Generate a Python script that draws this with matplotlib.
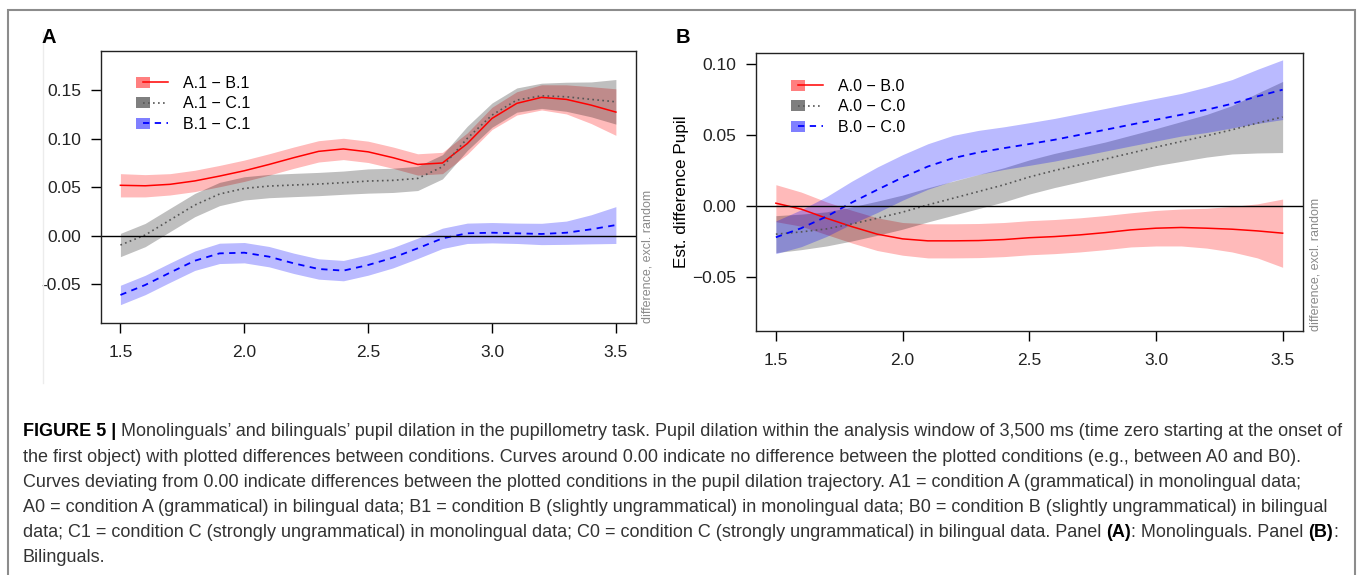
import numpy as np
import matplotlib
matplotlib.use('Agg')
import matplotlib.pyplot as plt
from matplotlib.legend_handler import HandlerBase
from matplotlib.patches import Rectangle
from matplotlib.lines import Line2D

plt.rcParams['font.family'] = ['Liberation Sans', 'DejaVu Sans']

time_s = [1.5, 1.6, 1.7, 1.8, 1.9, 2.0, 2.1, 2.2, 2.3, 2.4, 2.5,
          2.6, 2.7, 2.8, 2.9, 3.0, 3.1, 3.2, 3.3, 3.4, 3.5]

# panel A: monolinguals (estimated difference, CI half-width)
a1_b1 = [0.0520, 0.0515, 0.0530, 0.0565, 0.0615, 0.0670, 0.0735, 0.0805, 0.0870, 0.0895, 0.0865,
         0.0805, 0.0735, 0.0750, 0.0950, 0.1210, 0.1365, 0.1427, 0.1406, 0.1347, 0.1275]
a1_b1_ci = [0.012, 0.0115, 0.011, 0.011, 0.011, 0.011, 0.011, 0.011, 0.011, 0.011, 0.011,
            0.011, 0.011, 0.011, 0.011, 0.0115, 0.012, 0.013, 0.015, 0.019, 0.024]
a1_c1 = [-0.0096, 0.0007, 0.0162, 0.0316, 0.0430, 0.0488, 0.0512, 0.0523, 0.0533, 0.0547, 0.0564,
         0.0571, 0.0591, 0.0711, 0.1004, 0.1244, 0.1399, 0.1443, 0.1433, 0.1406, 0.1381]
a1_c1_ci = [0.012, 0.012, 0.012, 0.012, 0.012, 0.012, 0.012, 0.012, 0.012, 0.012, 0.0125,
            0.0125, 0.0125, 0.0125, 0.0125, 0.0125, 0.0125, 0.013, 0.015, 0.018, 0.023]
b1_c1 = [-0.0611, -0.0508, -0.0381, -0.0258, -0.0182, -0.0175, -0.0216, -0.0285, -0.0343, -0.0360, -0.0302,
         -0.0227, -0.0130, -0.0027, 0.0025, 0.0031, 0.0025, 0.0018, 0.0031, 0.0066, 0.0110]
b1_c1_ci = [0.010, 0.010, 0.010, 0.010, 0.0105, 0.0105, 0.0105, 0.0105, 0.0105, 0.0105, 0.0105,
            0.0105, 0.0105, 0.0105, 0.0105, 0.0105, 0.0105, 0.011, 0.012, 0.015, 0.019]

# panel B: bilinguals
a0_b0 = [0.0021, -0.0021, -0.0085, -0.0144, -0.0197, -0.0230, -0.0244, -0.0244, -0.0242, -0.0235, -0.0222,
         -0.0214, -0.0202, -0.0186, -0.0167, -0.0155, -0.0150, -0.0155, -0.0162, -0.0174, -0.0190]
a0_b0_ci = [0.013, 0.012, 0.0115, 0.0115, 0.0115, 0.0115, 0.012, 0.012, 0.012, 0.012, 0.012,
            0.012, 0.012, 0.012, 0.012, 0.0125, 0.013, 0.014, 0.016, 0.019, 0.024]
a0_c0 = [-0.0197, -0.0181, -0.0160, -0.0125, -0.0085, -0.0042, 0.0009, 0.0056, 0.0103, 0.0150, 0.0205,
         0.0251, 0.0291, 0.0331, 0.0373, 0.0415, 0.0455, 0.0495, 0.0537, 0.0584, 0.0627]
a0_c0_ci = [0.013, 0.0125, 0.012, 0.012, 0.012, 0.012, 0.012, 0.012, 0.012, 0.012, 0.012,
            0.012, 0.012, 0.012, 0.0125, 0.013, 0.014, 0.015, 0.017, 0.021, 0.025]
b0_c0 = [-0.0219, -0.0155, -0.0073, 0.0026, 0.0115, 0.0202, 0.0279, 0.0338, 0.0378, 0.0408, 0.0437,
         0.0467, 0.0502, 0.0537, 0.0573, 0.0608, 0.0643, 0.0678, 0.0720, 0.0772, 0.0819]
b0_c0_ci = [0.0115, 0.013, 0.014, 0.015, 0.016, 0.016, 0.016, 0.016, 0.0155, 0.015, 0.015,
            0.015, 0.015, 0.015, 0.015, 0.015, 0.015, 0.016, 0.017, 0.019, 0.021]

labels_a = ['A.1 \u2212 B.1', 'A.1 \u2212 C.1', 'B.1 \u2212 C.1']
labels_b = ['A.0 \u2212 B.0', 'A.0 \u2212 C.0', 'B.0 \u2212 C.0']
x_ticks = [1.5, 2.0, 2.5, 3.0, 3.5]
x_ticklabels = ['1.5', '2.0', '2.5', '3.0', '3.5']
y_ticks_a = [-0.05, 0.0, 0.05, 0.10, 0.15]
y_ticklabels_a = ['-0.05', '0.00', '0.05', '0.10', '0.15']
y_ticks_b = [-0.05, 0.0, 0.05, 0.10]
y_ticklabels_b = ['\u22120.05', '0.00', '0.05', '0.10']

caption = [
    [('FIGURE 5 |', True), (' Monolinguals\u2019 and bilinguals\u2019 pupil dilation in the pupillometry task. Pupil dilation '
                            'within the analysis window of 3,500 ms (time zero starting at the onset of', False)],
    [('the first object) with plotted differences between conditions. Curves around 0.00 indicate no difference '
      'between the plotted conditions (e.g., between A0 and B0).', False)],
    [('Curves deviating from 0.00 indicate differences between the plotted conditions in the pupil dilation '
      'trajectory. A1 = condition A (grammatical) in monolingual data;', False)],
    [('A0 = condition A (grammatical) in bilingual data; B1 = condition B (slightly ungrammatical) in monolingual '
      'data; B0 = condition B (slightly ungrammatical) in bilingual', False)],
    [('data; C1 = condition C (strongly ungrammatical) in monolingual data; C0 = condition C (strongly '
      'ungrammatical) in bilingual data. Panel ', False), ('(A)', True), (': Monolinguals. Panel ', False),
     ('(B)', True), (':', False)],
    [('Bilinguals.', False)],
]

styles = [
    dict(fill='#ff0000', alpha=0.27, color='#ff0000', ls='-', lw=1.1),
    dict(fill='#000000', alpha=0.25, color='#555555', ls=(0, (1, 2)), lw=1.2),
    dict(fill='#0000ff', alpha=0.27, color='#0000ff', ls=(0, (3.5, 3)), lw=1.3),
]

W, H = 1360, 575


class BandKey:
    def __init__(self, st):
        self.st = st


class BandKeyHandler(HandlerBase):
    # R-style key: filled square with the line running out of it
    def create_artists(self, legend, orig, xd, yd, width, height, fontsize, trans):
        st = orig.st
        sw, sh = 9.8, 7.9
        x0 = -xd
        yc = height / 2 - yd
        sq = Rectangle((x0, yc - sh / 2), sw, sh, facecolor=st['fill'], alpha=0.5,
                       edgecolor='none', transform=trans)
        ln = Line2D([x0 + sw / 2, x0 + width], [yc, yc], color=st['color'], ls=st['ls'],
                    lw=st['lw'], transform=trans)
        return [sq, ln]


def px_box(l, t, r, b):
    return [l / W, 1 - b / H, (r - l) / W, (b - t) / H]


def draw_panel(ax, series, labels, ylim, yticks, yticklabels, legend_anchor):
    for (mean, half), st in zip(series, styles):
        m = np.array(mean)
        h = np.array(half)
        ax.fill_between(time_s, m - h, m + h, color=st['fill'], alpha=st['alpha'], lw=0)
    for (mean, half), st in zip(series, styles):
        ax.plot(time_s, mean, color=st['color'], ls=st['ls'], lw=st['lw'])
    ax.axhline(0, color='black', lw=1)
    ax.set_xlim(1.42, 3.58)
    ax.set_ylim(*ylim)
    ax.set_xticks(x_ticks, x_ticklabels)
    ax.set_yticks(yticks, yticklabels)
    ax.tick_params(direction='out', length=7.2, width=1, labelsize=12.5, labelcolor='#222222')
    ax.tick_params(axis='y', pad=7)
    ax.tick_params(axis='x', pad=8.5)
    for sp in ax.spines.values():
        sp.set_linewidth(1.0)
        sp.set_color('#222222')
    ax.legend([BandKey(st) for st in styles], labels, handler_map={BandKey: BandKeyHandler()},
              loc='upper left', bbox_to_anchor=legend_anchor, frameon=False, fontsize=11.5,
              handlelength=2.0, handletextpad=0.92, labelspacing=0.34, borderpad=0, borderaxespad=0)


fig = plt.figure(figsize=(13.6, 5.75), dpi=100)

axA = fig.add_axes(px_box(100.6, 51, 635.7, 322.7))
axB = fig.add_axes(px_box(755.6, 53.3, 1302.9, 331))

draw_panel(axA, [(a1_b1, a1_b1_ci), (a1_c1, a1_c1_ci), (b1_c1, b1_c1_ci)], labels_a,
           (-0.0897, 0.1905), y_ticks_a, y_ticklabels_a, (0.066, 0.908))
draw_panel(axB, [(a0_b0, a0_b0_ci), (a0_c0, a0_c0_ci), (b0_c0, b0_c0_ci)], labels_b,
           (-0.0878, 0.1075), y_ticks_b, y_ticklabels_b, (0.0647, 0.908))

fig.text(681.7 / W, 1 - 192 / H, 'Est. difference Pupil', rotation=90, ha='center', va='center',
         fontsize=12.3)
fig.text(648 / W, 1 - 322.7 / H, 'difference, excl. random', rotation=90, ha='center', va='bottom',
         fontsize=9, color='#8a8a8a')
fig.text(1316 / W, 1 - 331 / H, 'difference, excl. random', rotation=90, ha='center', va='bottom',
         fontsize=9, color='#8a8a8a')
fig.text(42 / W, 1 - 43.3 / H, 'A', fontsize=14.5, fontweight='bold', ha='left', va='baseline')
fig.text(675.7 / W, 1 - 42.7 / H, 'B', fontsize=14.5, fontweight='bold', ha='left', va='baseline')

# outer frame and the faint edge of the pasted panel image
fig.add_artist(Rectangle((8 / W, -0.02), (1355 - 8) / W, 1 - 9.7 / H + 0.02, transform=fig.transFigure,
                         fill=False, edgecolor='#8c8c8c', lw=1.5))
fig.add_artist(Line2D([43 / W, 43 / W], [1 - 32 / H, 1 - 383 / H], color='#ececec', lw=1))

# caption, drawn run by run so the bold pieces sit inline
renderer = fig.canvas.get_renderer()


def text_width(s, size, bold):
    t = fig.text(0, 0, s, fontsize=size, fontweight='bold' if bold else 'normal')
    w = t.get_window_extent(renderer=renderer).width
    t.remove()
    return w


space_w = text_width('a a', 12, False) - text_width('aa', 12, False)
line1_w = (text_width(caption[0][0][0], 12, True) + space_w
           + text_width(caption[0][1][0].strip(), 12, False))
cap_size = 12 * (1342 - 22.7) / line1_w
space_w *= cap_size / 12

y_px = 432
for line in caption:
    x_px = 22.7
    for txt, bold in line:
        if txt.startswith(' '):
            x_px += space_w
        body = txt.strip()
        t = fig.text(x_px / W, 1 - y_px / H, body, fontsize=cap_size, ha='left', va='center',
                     fontweight='bold' if bold else 'normal', color='black' if bold else '#333333')
        x_px += t.get_window_extent(renderer=renderer).width
        if txt.endswith(' '):
            x_px += space_w
    y_px += 25.2

fig.savefig('out.png', dpi=100)
